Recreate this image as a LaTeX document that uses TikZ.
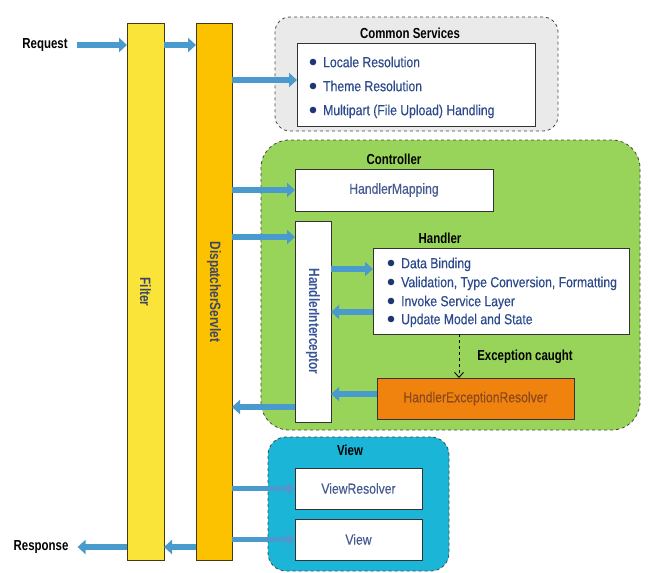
\documentclass[tikz,border=0pt]{standalone}
\usepackage{fontspec}
\setmainfont{Liberation Sans}[FakeStretch=0.84,FakeBold=0.4]
\newfontfamily\bfc{Liberation Sans}[FakeStretch=0.79]
\usetikzlibrary{arrows.meta}
\definecolor{filterc}{RGB}{251,228,58}
\definecolor{dsc}{RGB}{252,194,0}
\definecolor{barline}{RGB}{70,58,20}
\definecolor{csfill}{RGB}{234,234,234}
\definecolor{ctrlfill}{RGB}{153,212,90}
\definecolor{viewfill}{RGB}{27,181,216}
\definecolor{herfill}{RGB}{240,131,14}
\definecolor{arrowc}{RGB}{74,155,205}
\definecolor{itemc}{RGB}{45,75,140}
\definecolor{bulletc}{RGB}{30,55,115}
\definecolor{labelc}{RGB}{70,92,145}
\definecolor{herlab}{RGB}{140,72,30}
\definecolor{barlab}{RGB}{60,72,100}
\definecolor{hilab}{RGB}{55,85,150}
\definecolor{outline}{RGB}{70,70,70}
\tikzset{
  bar/.style={draw=barline, line width=0.8pt, inner sep=0pt, outer sep=0pt},
  barlabel/.style={font=\bfc\bfseries\fontsize{15}{17}\selectfont, text=barlab, inner sep=0pt},
  group/.style={draw=outline, dashed, line width=0.8pt, inner sep=0pt, outer sep=0pt},
  box/.style={draw=black!80, line width=0.8pt, fill=white, inner sep=0pt, outer sep=0pt,
    font=\fontsize{14.5}{16}\selectfont, text=labelc},
  title/.style={font=\bfc\bfseries\fontsize{14.5}{16}\selectfont, text=black, inner sep=0pt},
  itm/.style={font=\fontsize{14.5}{16}\selectfont, text=itemc, inner sep=0pt, anchor=base west},
  fat/.style={draw=arrowc, line width=5.5pt, -{Triangle[width=14pt,length=8pt]}},
  bul/.style={fill=bulletc},
}
\begin{document}
\begin{tikzpicture}[x=1pt,y=-1pt]
\useasboundingbox (0,0) rectangle (648,573);
% bars
\node[bar, fill=filterc, minimum width=37pt, minimum height=537pt] (filter) at (145.5,291.5) {};
\node[bar, fill=dsc, minimum width=36pt, minimum height=537pt] (ds) at (214,291.5) {};
\node[barlabel, rotate=-90] (flab) at (145.5,292) {Filter};
\node[barlabel, rotate=-90] (dslab) at (214,292) {DispatcherServlet};
% request / response
\node[title] (req) at (45,45) {Request};
\node[title] (resp) at (41,547) {Response};
\draw[fat] ([xshift=9pt]req.east) -- (filter.west |- req);
\draw[fat] (filter.east |- req) -- (ds.west |- req);
\draw[fat] (filter.west |- resp) -- ([xshift=9pt]resp.east);
\draw[fat] (ds.west |- resp) -- (filter.east |- resp);
% common services
\node[group, fill=csfill, rounded corners=15pt, minimum width=283pt, minimum height=114pt] (cs) at (416.5,74) {};
\node[title] (cst) at (410,33) {Common Services};
\node[box, minimum width=238pt, minimum height=83pt] (csin) at (416,84.5) {};
\fill[bul] (313,62) circle (3.3pt);
\fill[bul] (313,86) circle (3.3pt);
\fill[bul] (313,110) circle (3.3pt);
\node[itm] (cs1) at (323,67.2) {Locale Resolution};
\node[itm] (cs2) at (323,91.2) {Theme Resolution};
\node[itm] (cs3) at (323,115.2) {Multipart (File Upload) Handling};
\draw[fat] (ds.east |- 0,80) -- (csin.west |- 0,80);
% controller
\node[group, fill=ctrlfill, rounded corners=28pt, minimum width=379pt, minimum height=290pt] (ctrl) at (450.5,285) {};
\node[title] (ctrlt) at (394,159) {Controller};
\node[box, minimum width=198pt, minimum height=42pt] (hm) at (394,190) {HandlerMapping};
\node[box, minimum width=36pt, minimum height=201pt] (hi) at (313,321.5) {};
\node[barlabel, text=hilab, rotate=-90] (hilabel) at (313,321.5) {HandlerInterceptor};
\node[title] (handt) at (440,238) {Handler};
\node[box, minimum width=256pt, minimum height=86pt] (hand) at (501,291) {};
\fill[bul] (391,263) circle (3.3pt);
\fill[bul] (391,282) circle (3.3pt);
\fill[bul] (391,301) circle (3.3pt);
\fill[bul] (391,319) circle (3.3pt);
\node[itm] (h1) at (401,268.2) {Data Binding};
\node[itm] (h2) at (401,287.2) {Validation, Type Conversion, Formatting};
\node[itm] (h3) at (401,306.2) {Invoke Service Layer};
\node[itm] (h4) at (401,324.2) {Update Model and State};
\node[box, fill=herfill, text=herlab, minimum width=197pt, minimum height=41pt] (her) at (475.5,398.5) {HandlerExceptionResolver};
\node[title] (exc) at (525,357) {Exception caught};
\draw[dashed, line width=0.9pt, -{Straight Barb[length=5pt,width=9pt]}] (hand.south -| 459,0) -- (her.north -| 459,0);
\draw[fat] (ds.east |- hm) -- (hm.west);
\draw[fat] (ds.east |- 0,237) -- (hi.west |- 0,237);
\draw[fat] (hi.east |- 0,269) -- (hand.west |- 0,269);
\draw[fat] (hand.west |- 0,312) -- (hi.east |- 0,312);
\draw[fat] (her.west |- 0,394) -- (hi.east |- 0,394);
\draw[fat] (hi.west |- 0,407) -- (ds.east |- 0,407);
% view
\node[group, fill=viewfill, rounded corners=18pt, minimum width=181pt, minimum height=134pt] (view) at (358.5,504) {};
\node[title] (viewt) at (350,450) {View};
\node[box, minimum width=127pt, minimum height=41pt] (vr) at (358.5,488.5) {ViewResolver};
\node[box, minimum width=127pt, minimum height=41pt] (vw) at (358.5,539.5) {View};
\draw[fat] (ds.east |- vr) -- (vr.west);
\draw[fat] (ds.east |- vw) -- (vw.west);
\end{tikzpicture}
\end{document}
